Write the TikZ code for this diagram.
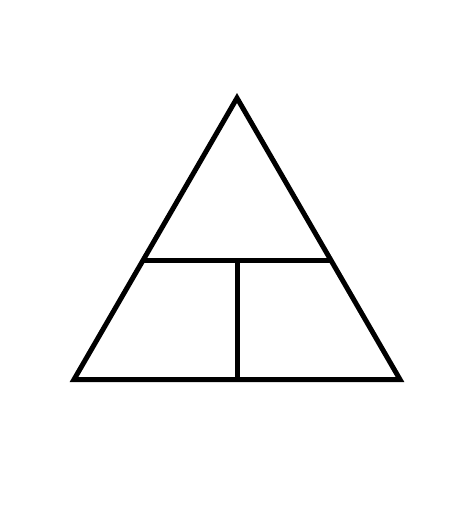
\documentclass[tikz,border=0pt]{standalone}
\usetikzlibrary{calc}
\tikzset{
  % outline of the triangle and its parts
  edge line/.style = {
    draw = black,
    line width = 5pt,
    line join = miter
  },
  part line/.style = {
    draw = black,
    line width = 5pt
  }
}
\begin{document}
\begin{tikzpicture}[x=1pt, y=-1pt]
    \useasboundingbox (0, 0) rectangle (474, 505);

    \coordinate (top) at (237, 98);
    \coordinate (base-left) at (74, 379.5);
    \coordinate (base-right) at (400, 379.5);

    \coordinate (mid-left) at ($(base-left)!0.4227!(top)$);
    \coordinate (mid-right) at ($(base-right)!0.4227!(top)$);
    \coordinate (mid) at ($(mid-left)!0.5!(mid-right)$);
    \coordinate (base-mid) at ($(base-left)!0.5!(base-right)$);

    \draw [edge line] (top) -- (base-right) -- (base-left) -- cycle;

    \draw [part line] (mid-left) -- (mid-right);
    \draw [part line] (mid) -- (base-mid);
  \end{tikzpicture}
\end{document}
